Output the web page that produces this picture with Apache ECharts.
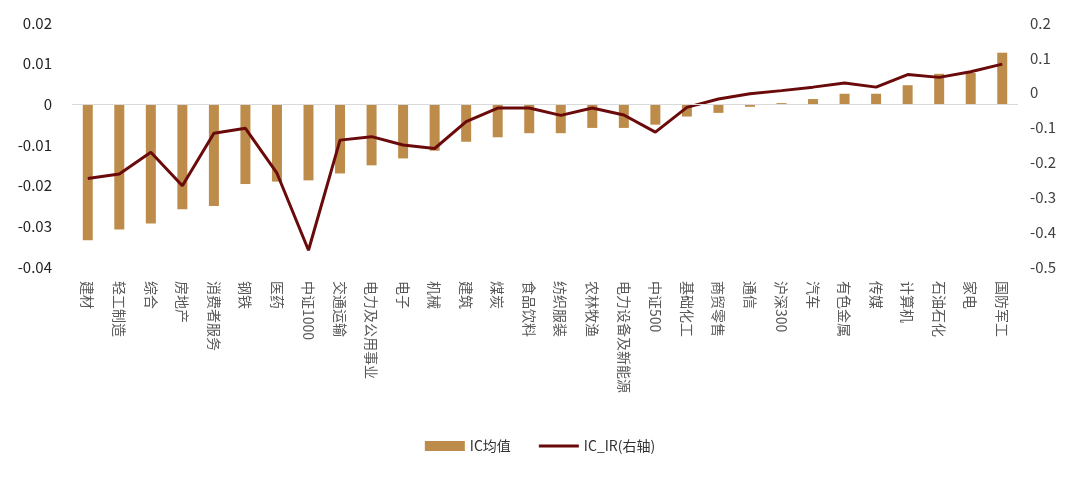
<!DOCTYPE html>
<html><head><meta charset="utf-8">
<script src="https://cdn.jsdelivr.net/npm/echarts@6/dist/echarts.min.js"></script>
<style>html,body{margin:0;padding:0;background:#fff}#c{width:1080px;height:480px}</style>
</head><body><div id="c"></div>
<script>
const categories = ['建材','轻工制造','综合','房地产','消费者服务','钢铁','医药','中证1000','交通运输','电力及公用事业','电子','机械','建筑','煤炭','食品饮料','纺织服装','农林牧渔','电力设备及新能源','中证500','基础化工','商贸零售','通信','沪深300','汽车','有色金属','传媒','计算机','石油石化','家电','国防军工'];
const icMean = [-0.0334,-0.0308,-0.0293,-0.0258,-0.0250,-0.0196,-0.0190,-0.0187,-0.0170,-0.0150,-0.0133,-0.0114,-0.0092,-0.0081,-0.0071,-0.0071,-0.0058,-0.0058,-0.0050,-0.0030,-0.0021,-0.0006,0.0003,0.0013,0.0026,0.0026,0.0047,0.0075,0.0077,0.0127];
const icIR = [-0.246,-0.233,-0.171,-0.267,-0.116,-0.102,-0.231,-0.452,-0.136,-0.126,-0.150,-0.160,-0.083,-0.044,-0.044,-0.065,-0.044,-0.064,-0.113,-0.042,-0.018,-0.003,0.006,0.016,0.028,0.016,0.052,0.044,0.060,0.082];
const leftTicks = {min:-0.04, max:0.02, interval:0.01};
const rightTicks = {min:-0.5, max:0.2, interval:0.1};

const chart = echarts.init(document.getElementById('c'));
const font = '"Noto Sans CJK SC", "Noto Sans", sans-serif';
chart.setOption({
  animation:false,
  textStyle:{fontFamily:font},
  grid:{left:72, right:62, top:23, bottom:213, containLabel:false},
  legend:{
    bottom:22, left:'center', itemGap:28, itemWidth:40, itemHeight:10,
    textStyle:{fontSize:14, color:'#333', fontFamily:font},
    data:[{name:'IC均值', icon:'rect'},
          {name:'IC_IR(右轴)', icon:'path://M0,0 L40,0 L40,3 L0,3 Z', itemStyle:{color:'#6B0A0A'}}]
  },
  xAxis:{
    type:'category', data:categories,
    axisLine:{show:false}, axisTick:{show:false},
    axisLabel:{rotate:-90, interval:0, fontSize:14, color:'#595959', margin:14, fontFamily:font}
  },
  yAxis:[
    {type:'value', min:leftTicks.min, max:leftTicks.max, interval:leftTicks.interval,
     splitLine:{show:false}, axisLine:{show:false}, axisTick:{show:false},
     axisLabel:{fontSize:15, color:'#222', margin:20, formatter:v=>v===0?'0':v.toFixed(2), fontFamily:font}},
    {type:'value', min:rightTicks.min, max:rightTicks.max, interval:rightTicks.interval,
     splitLine:{show:false}, axisLine:{show:false}, axisTick:{show:false},
     axisLabel:{fontSize:15, color:'#404040', margin:12, formatter:v=>v===0?'0':v.toFixed(1), fontFamily:font}}
  ],
  series:[
    {name:'IC均值', type:'bar', data:icMean, barWidth:10, itemStyle:{color:'#BE8C4A'},
     markLine:{silent:true, symbol:'none', label:{show:false}, lineStyle:{color:'#D9D9D9', width:1, type:'solid'}, data:[{yAxis:0}]}},
    {name:'IC_IR(右轴)', type:'line', yAxisIndex:1, data:icIR, symbol:'none',
     lineStyle:{color:'#6B0A0A', width:3}, itemStyle:{color:'#6B0A0A'}}
  ]
});
</script></body></html>
